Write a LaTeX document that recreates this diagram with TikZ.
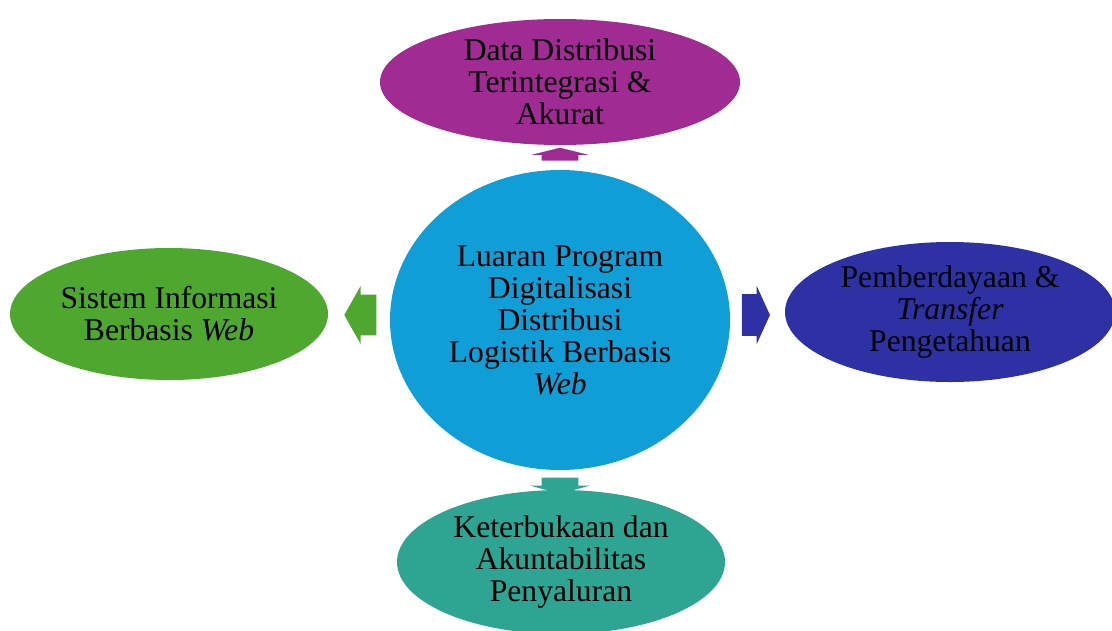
\documentclass[tikz,border=0pt]{standalone}
\usepackage{fontspec}
\setmainfont{Liberation Serif}
\usetikzlibrary{shapes.geometric,shapes.arrows}
\definecolor{ungu}{HTML}{A02B93}
\definecolor{hijau}{HTML}{4EA72E}
\definecolor{biru}{HTML}{0F9ED5}
\definecolor{biruTua}{HTML}{2E31A3}
\definecolor{tosca}{HTML}{2EA593}
\tikzset{
	oval/.style={ellipse,fill=#1,inner sep=0pt,align=center,font=\fontsize{22.5}{22.8}\selectfont},
	panah/.style={single arrow,fill=#1,inner xsep=0pt,draw=none},
}
\begin{document}
\begin{tikzpicture}
	\useasboundingbox (0,0) rectangle (27.8,-15.75);
	\node[oval=biru,minimum width=8.5cm,minimum height=7.5cm] (luaran) at (14,-8) {Luaran Program\\Digitalisasi\\Distribusi\\Logistik Berbasis\\\textit{Web}};
	\node[oval=ungu,minimum width=9cm,minimum height=3.15cm] (data) at (14,-2.05) {Data Distribusi\\Terintegrasi \&\\Akurat};
	\node[oval=hijau,minimum width=7.95cm,minimum height=3.3cm] (sistem) at (4.225,-7.85) {Sistem Informasi\\Berbasis \textit{Web}};
	\node[oval=biruTua,minimum width=8.25cm,minimum height=3.5cm] (pemberdayaan) at (23.75,-7.8) {Pemberdayaan \&\\\textit{Transfer}\\Pengetahuan};
	\node[oval=tosca,minimum width=8.2cm,minimum height=3.6cm] (keterbukaan) at (14.025,-14.05) {Keterbukaan dan\\Akuntabilitas\\Penyaluran};
	\node[panah=ungu,rotate=90,inner ysep=0.45cm,minimum height=0.325cm,single arrow head extend=0.25cm,single arrow tip angle=152] (keData) at (14,-3.9125) {};
	\node[panah=hijau,rotate=180,inner ysep=0.5cm,minimum height=0.8cm,single arrow head extend=0.2125cm,single arrow tip angle=121] (keSistem) at (9.15,-7.875) {};
	\node[panah=biruTua,inner ysep=0.5125cm,minimum height=0.7cm,single arrow head extend=0.21cm,single arrow tip angle=131] (kePemberdayaan) at (18.78,-7.875) {};
	\node[panah=tosca,rotate=-90,inner ysep=0.45cm,minimum height=0.4cm,single arrow head extend=0.3cm,single arrow tip angle=150] (keKeterbukaan) at (14,-12.08) {};
\end{tikzpicture}
\end{document}
